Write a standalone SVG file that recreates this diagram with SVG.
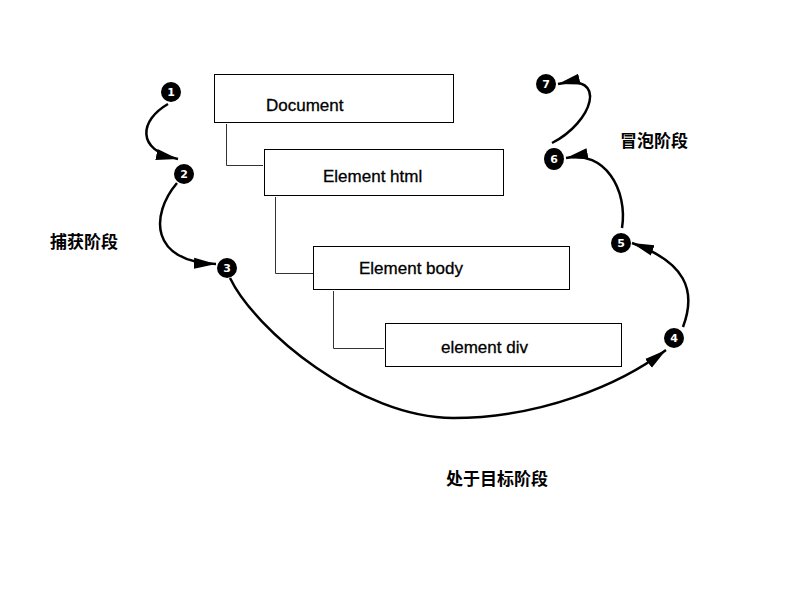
<svg xmlns="http://www.w3.org/2000/svg" width="800" height="600" viewBox="0 0 800 600">
<defs>
<style>
.box{fill:#fff;stroke:#000;stroke-width:1}
.tree{fill:none;stroke:#333;stroke-width:1}
.lbl{font-family:"Liberation Sans",Arial,sans-serif;font-size:17px;fill:#000;stroke:#000;stroke-width:0.3}
.cn{font-family:"Noto Sans CJK SC","Liberation Sans",sans-serif;font-size:17px;font-weight:bold;fill:#000}
.dot{fill:#000}
.num{font-family:"DejaVu Sans",Verdana,sans-serif;font-size:11px;font-weight:bold;fill:#fff;text-anchor:middle}
.arr{fill:none;stroke:#000;stroke-width:2.5;marker-end:url(#ah)}
</style>
<marker id="ah" markerUnits="userSpaceOnUse" markerWidth="24" markerHeight="14" refX="22" refY="7" orient="auto">
<path d="M0,1.5 L22,7 L0,12.5 Z" fill="#000"/>
</marker>
</defs>
<rect width="800" height="600" fill="#fff"/>
<g id="connectors">
<path class="tree" d="M226.5,124 V165.5 H263"/>
<path class="tree" d="M275.5,197 V273.5 H319"/>
<path class="tree" d="M333.5,291 V348.5 H384"/>
<path class="arr" d="M168,104 C140,120 135,150 178,159"/>
<path class="arr" d="M177,183 C150,215 150,262 216,264"/>
<path class="arr" d="M230,278 C255,330 360,418 453,418 C540,418 620,385 666,350"/>
<path class="arr" d="M683,327 C697,290 685,262 632,243"/>
<path class="arr" d="M622,228 C628,190 605,150 566,158"/>
<path class="arr" d="M552,143 C592,123 610,72 558,84"/>
</g>
<g id="document"><rect class="box" x="214.5" y="74.5" width="239" height="48"/><text class="lbl" x="266" y="111">Document</text></g>
<g id="html"><rect class="box" x="264.5" y="149.5" width="239" height="46"/><text class="lbl" x="323" y="182">Element html</text></g>
<g id="body"><rect class="box" x="313.5" y="246.5" width="256" height="43"/><text class="lbl" x="359" y="274">Element body</text></g>
<g id="div"><rect class="box" x="385.5" y="323.5" width="236" height="43"/><text class="lbl" x="441" y="353">element div</text></g>
<g id="n1"><circle class="dot" cx="171" cy="92" r="10"/><text class="num" x="171" y="96">1</text></g>
<g id="n2"><circle class="dot" cx="184" cy="174" r="10"/><text class="num" x="184" y="178">2</text></g>
<g id="n3"><circle class="dot" cx="227" cy="268" r="10"/><text class="num" x="227" y="272">3</text></g>
<g id="n4"><circle class="dot" cx="674" cy="338" r="10"/><text class="num" x="674" y="342">4</text></g>
<g id="n5"><circle class="dot" cx="621" cy="243" r="10"/><text class="num" x="621" y="247">5</text></g>
<g id="n6"><ellipse class="dot" cx="554" cy="159" rx="10" ry="11"/><text class="num" x="554" y="163">6</text></g>
<g id="n7"><circle class="dot" cx="546" cy="84" r="10"/><text class="num" x="546" y="88">7</text></g>
<g id="labels">
<text class="cn" x="50" y="248">捕获阶段</text>
<text class="cn" x="620" y="147">冒泡阶段</text>
<text class="cn" x="446" y="485">处于目标阶段</text>
</g>
</svg>
